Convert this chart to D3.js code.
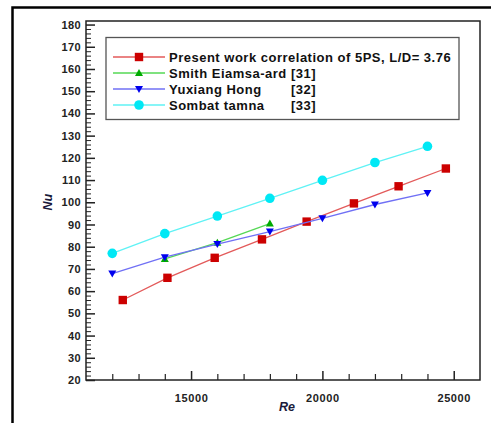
<!DOCTYPE html>
<html>
<head>
<meta charset="utf-8">
<script src="https://cdn.jsdelivr.net/npm/d3@7/dist/d3.min.js"></script>
<style>
  html, body { margin: 0; padding: 0; background: #fff; }
  svg text { font-family: "Liberation Sans", Arial, sans-serif; }
</style>
</head>
<body>
<svg id="chart" width="491" height="423"></svg>
<script>
// Nusselt number vs Reynolds number
const presentRe = [12400, 14100, 15900, 17700, 19400, 21200, 22900, 24700];
const presentNu = [56, 66, 75, 83.3, 91.3, 99.5, 107.2, 115.2];
const smithRe = [14000, 16000, 18000];
const smithNu = [74.5, 81.8, 90.4];
const yuxiangRe = [12000, 14000, 16000, 18000, 20000, 22000, 24000];
const yuxiangNu = [67.9, 75.3, 81.2, 86.8, 92.8, 99, 104.2];
const sombatRe = [12000, 14000, 16000, 18000, 20000, 22000, 24000];
const sombatNu = [77, 85.9, 93.8, 101.8, 109.9, 117.9, 125.2];

const seriesNames = ["Present work correlation of 5PS, L/D= 3.76", "Smith Eiamsa-ard", "Yuxiang Hong", "Sombat tamna"];
const seriesRefs = ["", "[31]", "[32]", "[33]"];
const xTicks = [15000, 20000, 25000];
const yTicks = [20, 30, 40, 50, 60, 70, 80, 90, 100, 110, 120, 130, 140, 150, 160, 170, 180];

const series = [
  { re: presentRe, nu: presentNu, line: "#e35a5a", fill: "#cc0000", shape: "square" },
  { re: smithRe, nu: smithNu, line: "#55d855", fill: "#00aa00", shape: "up" },
  { re: yuxiangRe, nu: yuxiangNu, line: "#7070f5", fill: "#0000ee", shape: "down" },
  { re: sombatRe, nu: sombatNu, line: "#5ff2f5", fill: "#00e8f5", shape: "circle" }
];

const svg = d3.select("#chart");
const plotL = 86, plotR = 480, plotT = 21, plotB = 380;

const x = d3.scaleLinear().domain([11000, 26000]).range([plotL, plotR]);
const y = d3.scaleLinear().domain([20, 181.6]).range([plotB, plotT]);

// outer figure frame
svg.append("path")
  .attr("d", `M12.5,423 L12.5,7.5 L491,7.5`)
  .attr("fill", "none").attr("stroke", "#000").attr("stroke-width", 2.5);

// plot frame
svg.append("rect")
  .attr("x", plotL).attr("y", plotT)
  .attr("width", plotR - plotL).attr("height", plotB - plotT)
  .attr("fill", "#fff").attr("stroke", "#222").attr("stroke-width", 1.5);

// x axis: inward ticks
const xMinor = d3.range(12000, 26000, 1000).filter(v => !xTicks.includes(v));
svg.append("g").attr("transform", `translate(0,${plotB})`)
  .call(d3.axisBottom(x).tickValues(xMinor).tickSize(-6).tickFormat(""))
  .call(g => g.select(".domain").remove())
  .call(g => g.selectAll("line").attr("stroke", "#222").attr("stroke-width", 1.2));
svg.append("g").attr("transform", `translate(0,${plotB})`)
  .call(d3.axisBottom(x).tickValues(xTicks).tickSize(-9).tickPadding(3).tickFormat(d3.format("d")))
  .call(g => g.select(".domain").remove())
  .call(g => g.selectAll("line").attr("stroke", "#222").attr("stroke-width", 1.5))
  .call(g => g.selectAll("text").attr("y", 14).attr("font-size", 11).attr("letter-spacing", 0.6)
    .attr("font-weight", "bold").attr("fill", "#222"));

// y axis: inward ticks
const yMinor = d3.range(22, 182, 2).filter(v => v % 10 !== 0);
svg.append("g").attr("transform", `translate(${plotL},0)`)
  .call(d3.axisLeft(y).tickValues(yMinor).tickSize(-5).tickFormat(""))
  .call(g => g.select(".domain").remove())
  .call(g => g.selectAll("line").attr("stroke", "#222").attr("stroke-width", 1));
svg.append("g").attr("transform", `translate(${plotL},0)`)
  .call(d3.axisLeft(y).tickValues(yTicks).tickSize(-9).tickPadding(5).tickFormat(d3.format("d")))
  .call(g => g.select(".domain").remove())
  .call(g => g.selectAll("line").attr("stroke", "#222").attr("stroke-width", 1.5))
  .call(g => g.selectAll("text").attr("x", -5).attr("font-size", 11).attr("letter-spacing", 0.4)
    .attr("font-weight", "bold").attr("fill", "#222"));

// axis titles
svg.append("text")
  .attr("transform", `translate(52,${y(100)}) rotate(-90)`)
  .attr("text-anchor", "middle").attr("font-size", 12.5)
  .attr("font-weight", "bold").attr("font-style", "italic").attr("fill", "#1a1a3a")
  .text("Nu");
svg.append("text")
  .attr("x", 287).attr("y", 411)
  .attr("text-anchor", "middle").attr("font-size", 12.5)
  .attr("font-weight", "bold").attr("font-style", "italic").attr("fill", "#1a1a3a")
  .text("Re");

function drawMarker(g, shape, fill, cx, cy) {
  if (shape === "square") {
    g.append("rect").attr("x", cx - 4.2).attr("y", cy - 4.2).attr("width", 8.4).attr("height", 8.4).attr("fill", fill);
  } else if (shape === "circle") {
    g.append("circle").attr("cx", cx).attr("cy", cy).attr("r", 4.8).attr("fill", fill);
  } else if (shape === "up") {
    g.append("path").attr("d", `M${cx},${cy - 4} L${cx + 4},${cy + 3} L${cx - 4},${cy + 3} Z`).attr("fill", fill);
  } else {
    g.append("path").attr("d", `M${cx - 4},${cy - 3} L${cx + 4},${cy - 3} L${cx},${cy + 4} Z`).attr("fill", fill);
  }
}

const line = d3.line().x(d => x(d[0])).y(d => y(d[1]));
series.forEach(s => {
  const pts = s.re.map((r, i) => [r, s.nu[i]]);
  const g = svg.append("g");
  g.append("path").attr("d", line(pts)).attr("fill", "none")
    .attr("stroke", s.line).attr("stroke-width", 1.3);
  pts.forEach(p => drawMarker(g, s.shape, s.fill, x(p[0]), y(p[1])));
});

// legend
const legend = svg.append("g");
legend.append("rect").attr("x", 106).attr("y", 37.5).attr("width", 353).attr("height", 82)
  .attr("fill", "#fff").attr("stroke", "#555").attr("stroke-width", 1.3);
series.forEach((s, i) => {
  const ly = 57 + i * 16;
  legend.append("line").attr("x1", 113).attr("x2", 165).attr("y1", ly).attr("y2", ly)
    .attr("stroke", s.line).attr("stroke-width", 1.3);
  drawMarker(legend, s.shape, s.fill, 139, ly);
  legend.append("text").attr("x", 169).attr("y", ly + 4.5)
    .attr("font-size", 13).attr("letter-spacing", 0.5).attr("font-weight", "bold").attr("fill", "#111")
    .text(seriesNames[i]);
  if (seriesRefs[i]) {
    legend.append("text").attr("x", 291).attr("y", ly + 4.5)
      .attr("font-size", 13).attr("letter-spacing", 0.5).attr("font-weight", "bold").attr("fill", "#111")
      .text(seriesRefs[i]);
  }
});
</script>
</body>
</html>
